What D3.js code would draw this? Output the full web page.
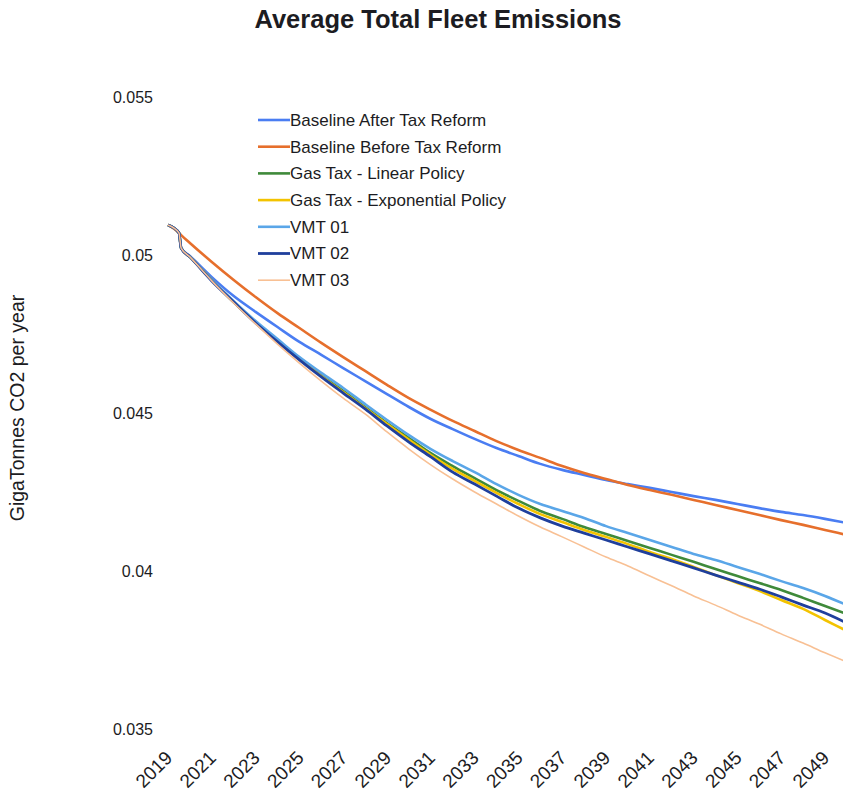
<!DOCTYPE html>
<html>
<head>
<meta charset="utf-8">
<script src="https://cdn.jsdelivr.net/npm/d3@7"></script>
<style>
    body { margin: 0; background: #fff; }
    text { font-family: "Liberation Sans", Arial, sans-serif; fill: #1c1c22; }
</style>
</head>
<body>
<div id="chart"></div>
<script>
var years = [2019, 2019.5, 2019.6, 2020, 2021, 2022, 2023, 2024, 2025, 2026, 2027, 2028, 2029, 2030,
    2031, 2032, 2033, 2034, 2035, 2036, 2037, 2038, 2039, 2040, 2041, 2042, 2043, 2044, 2045,
    2046, 2047, 2048, 2049, 2050];
var tickYears = [2019, 2021, 2023, 2025, 2027, 2029, 2031, 2033, 2035, 2037, 2039, 2041, 2043, 2045, 2047, 2049];
var yTicks = [0.035, 0.04, 0.045, 0.05, 0.055];

var seriesNames = ["Baseline After Tax Reform", "Baseline Before Tax Reform", "Gas Tax - Linear Policy",
    "Gas Tax - Exponential Policy", "VMT 01", "VMT 02", "VMT 03"];
var seriesColors = ["#4a7df2", "#e66f2c", "#3f8a3a", "#f3c300", "#5aa6e8", "#1f3f9c", "#f8c094"];

var afterReform = [0.05095, 0.05070, 0.05022, 0.04997, 0.04930, 0.04870, 0.04820, 0.04772, 0.04725, 0.04684,
    0.04642, 0.04601, 0.04560, 0.04519, 0.04481, 0.04449, 0.04418, 0.04389, 0.04364, 0.04339, 0.04320,
    0.04304, 0.04288, 0.04275, 0.04263, 0.04250, 0.04237, 0.04225, 0.04212, 0.04199, 0.04187, 0.04177,
    0.04165, 0.04152];
var beforeReform = [0.05095, 0.05070, 0.05063, 0.05038, 0.04978, 0.04921, 0.04867, 0.04816, 0.04769, 0.04722,
    0.04677, 0.04633, 0.04589, 0.04547, 0.04510, 0.04475, 0.04443, 0.04411, 0.04383, 0.04358, 0.04332,
    0.04310, 0.04291, 0.04272, 0.04256, 0.04241, 0.04225, 0.04209, 0.04193, 0.04177, 0.04161, 0.04146,
    0.04130, 0.04114];
var gasLinear = [0.05095, 0.05070, 0.05022, 0.04994, 0.04921, 0.04851, 0.04788, 0.04728, 0.04671, 0.04620,
    0.04570, 0.04519, 0.04468, 0.04421, 0.04373, 0.04332, 0.04294, 0.04256, 0.04222, 0.04190, 0.04165,
    0.04139, 0.04117, 0.04095, 0.04073, 0.04051, 0.04029, 0.04006, 0.03984, 0.03962, 0.03940, 0.03915,
    0.03889, 0.03864];
var gasExponential = [0.05095, 0.05070, 0.05022, 0.04994, 0.04921, 0.04851, 0.04788, 0.04728, 0.04671, 0.04617,
    0.04566, 0.04516, 0.04465, 0.04415, 0.04367, 0.04323, 0.04285, 0.04247, 0.04212, 0.04180, 0.04155,
    0.04130, 0.04108, 0.04085, 0.04060, 0.04038, 0.04013, 0.03987, 0.03962, 0.03937, 0.03908, 0.03880,
    0.03845, 0.03810];
var vmt01 = [0.05095, 0.05070, 0.05022, 0.04994, 0.04921, 0.04854, 0.04791, 0.04734, 0.04677, 0.04627,
    0.04579, 0.04528, 0.04478, 0.04430, 0.04386, 0.04348, 0.04313, 0.04275, 0.04241, 0.04212, 0.04190,
    0.04168, 0.04142, 0.04120, 0.04098, 0.04076, 0.04054, 0.04035, 0.04013, 0.03991, 0.03968, 0.03946,
    0.03921, 0.03892];
var vmt02 = [0.05095, 0.05070, 0.05022, 0.04994, 0.04918, 0.04851, 0.04785, 0.04725, 0.04668, 0.04614,
    0.04563, 0.04513, 0.04459, 0.04408, 0.04361, 0.04313, 0.04275, 0.04237, 0.04199, 0.04168, 0.04142,
    0.04120, 0.04098, 0.04076, 0.04054, 0.04032, 0.04010, 0.03987, 0.03965, 0.03943, 0.03918, 0.03892,
    0.03867, 0.03835];
var vmt03 = [0.05095, 0.05070, 0.05022, 0.04994, 0.04918, 0.04848, 0.04782, 0.04718, 0.04658, 0.04601,
    0.04547, 0.04497, 0.04440, 0.04386, 0.04336, 0.04291, 0.04250, 0.04212, 0.04174, 0.04139, 0.04108,
    0.04076, 0.04044, 0.04016, 0.03984, 0.03953, 0.03921, 0.03892, 0.03861, 0.03832, 0.03801, 0.03772,
    0.03741, 0.03712];

var seriesValues = [afterReform, beforeReform, gasLinear, gasExponential, vmt01, vmt02, vmt03];
var seriesWidths = [2.6, 2.6, 2.6, 2.6, 2.6, 2.8, 1.6];

var width = 843, height = 795;

var x = d3.scaleLinear()
    .domain([2019, 2049])
    .range([168, 825]);

var y = d3.scaleLinear()
    .domain([0.035, 0.055])
    .range([729, 97]);

var chart = d3.select('#chart')
    .append('svg')
    .attr('width', width)
    .attr('height', height);

// title
chart.append("text")
    .attr("x", 438)
    .attr("y", 28)
    .attr("text-anchor", "middle")
    .style("font-size", "25.5px")
    .style("font-weight", "bold")
    .text("Average Total Fleet Emissions");

// y axis (labels only)
var yAxis = chart.append("g")
    .attr("transform", "translate(153,0)")
    .call(d3.axisLeft(y).tickValues(yTicks).tickSize(0).tickPadding(0)
        .tickFormat(function (d) { return String(+d.toFixed(3)); }));
yAxis.select(".domain").remove();
yAxis.selectAll("text")
    .style("font-size", "16px")
    .style("font-family", '"Liberation Sans", Arial, sans-serif')
    .attr("fill", "#1c1c22");

chart.append("text")
    .attr("transform", "translate(24,408) rotate(-90)")
    .attr("text-anchor", "middle")
    .style("font-size", "19.5px")
    .text("GigaTonnes CO2 per year");

// x axis (rotated labels only)
var xAxis = chart.append("g")
    .attr("transform", "translate(0,729)")
    .call(d3.axisBottom(x).tickValues(tickYears).tickSize(0).tickFormat(d3.format("d")));
xAxis.select(".domain").remove();
xAxis.selectAll("text")
    .style("font-size", "19px")
    .style("font-family", '"Liberation Sans", Arial, sans-serif')
    .attr("fill", "#1c1c22")
    .attr("text-anchor", "end")
    .attr("dy", null)
    .attr("y", 0)
    .attr("transform", "translate(5,30) rotate(-45)");

// lines
var line = d3.line()
    .curve(d3.curveMonotoneX)
    .x(function (d, i) { return x(years[i]); })
    .y(function (d) { return y(d); });

var lines = chart.append("g");
seriesValues.forEach(function (vals, i) {
    lines.append("path")
        .datum(vals)
        .attr("fill", "none")
        .attr("stroke", seriesColors[i])
        .attr("stroke-width", seriesWidths[i])
        .attr("stroke-linejoin", "round")
        .attr("d", line);
});

// legend
var legend = chart.append("g")
    .attr("transform", "translate(258,120)");
seriesNames.forEach(function (name, i) {
    var row = legend.append("g").attr("transform", "translate(0," + (i * 26.7) + ")");
    row.append("line")
        .attr("x1", 0).attr("x2", 32)
        .attr("stroke", seriesColors[i])
        .attr("stroke-width", seriesWidths[i]);
    row.append("text")
        .attr("x", 32)
        .attr("dy", "0.35em")
        .style("font-size", "17px")
        .text(name);
});
</script>
</body>
</html>
